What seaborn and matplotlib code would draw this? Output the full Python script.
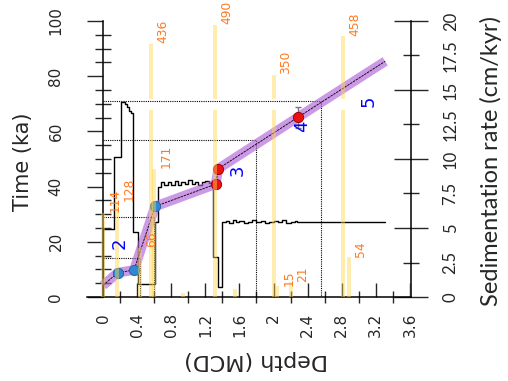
import numpy as np
import pandas as pd
import matplotlib
matplotlib.use("Agg")
import matplotlib.pyplot as plt
import seaborn as sns
from matplotlib.ticker import FixedLocator, FixedFormatter

# ---------------- data ----------------
# age-depth model (depth in m MCD, age in ka)
model_depth = [0.0, 0.172, 0.364, 0.61, 1.322, 1.353, 2.291, 3.31]
model_age = [4.2, 8.8, 9.8, 32.8, 40.9, 46.5, 65.2, 85.4]

# dated points
c14_depth = [0.172, 0.364, 0.61]
c14_age = [8.8, 9.8, 32.8]
osl_depth = [1.322, 1.353, 2.291]
osl_age = [40.9, 46.5, 65.2]
osl_err = [0.0, 0.0, 3.8]

# MIS boundaries
mis_age = [14, 29, 57, 71]
mis_depth = [0.43, 0.60, 1.80, 2.56]
mis_labels = ["2", "3", "4", "5"]
mis_label_depth = [0.19, 1.585, 2.335, 3.12]
mis_label_age = [19.6, 46.1, 61.7, 70.8]

# count histogram bars (plotted on the time axis)
bar_depth = [0.0, 0.164, 0.434, 0.598, 0.563, 1.314, 2.006, 2.041, 2.205, 2.815, 2.886]
bar_height = [30.5, 34.8, 17.8, 46.5, 91.8, 98.7, 80.6, 4.0, 5.4, 94.4, 14.5]
bar_count = [114, 128, 66, 171, 436, 490, 350, 15, 21, 458, 54]
small_bar_depth = [0.94, 1.55]
small_bar_height = [1.6, 2.8]

# sedimentation rate (cm/kyr), step line (steps-post)
rate_depth = [0.0, 0.0, 0.13, 0.21, 0.26, 0.28, 0.305, 0.33, 0.352, 0.41, 0.61,
              0.645, 0.68, 0.72, 0.76, 0.80, 0.84, 0.88, 0.92, 0.96, 1.00, 1.04,
              1.08, 1.12, 1.16, 1.20, 1.24, 1.29, 1.35, 1.40,
              1.44, 1.48, 1.52, 1.56, 1.60, 1.65, 1.70, 1.75, 1.80, 1.85, 1.90,
              1.95, 2.00, 2.05, 2.10, 2.15, 2.20, 2.25, 2.28, 3.31]
rate_value = [0.0, 4.93, 10.16, 14.15, 14.0, 13.75, 13.5, 13.35, 4.72, 0.94, 5.44,
              8.0, 8.3, 8.1, 8.35, 8.15, 8.4, 8.1, 8.3, 8.2, 8.45, 8.2,
              8.35, 8.15, 8.3, 8.4, 8.25, 2.9, 0.73, 5.44,
              5.5, 5.35, 5.55, 5.4, 5.5, 5.35, 5.45, 5.55, 5.4, 5.5, 5.35,
              5.45, 5.5, 5.4, 5.55, 5.35, 5.45, 5.5, 5.44, 5.44]

x_ticks = [0, 0.4, 0.8, 1.2, 1.6, 2, 2.4, 2.8, 3.2, 3.6]
x_ticklabels = ["0", "0.4", "0.8", "1.2", "1.6", "2", "2.4", "2.8", "3.2", "3.6"]
y_ticks = [0, 20, 40, 60, 80, 100]
r_major = [0, 5, 10, 15, 20]
r_minor = [2.5, 7.5, 12.5, 17.5]

# ---------------- style ----------------
sns.set_style("white")
plt.rcParams["font.family"] = ["DejaVu Sans"]

fig = plt.figure(figsize=(5.08, 3.81), dpi=100)
ax = fig.add_axes([87 / 508, 1 - 297 / 381, 324 / 508, 276 / 381])
ax2 = ax.twinx()
ax2.set_zorder(ax.get_zorder() - 1)
ax.patch.set_visible(False)

ax.set_xlim(-0.188, 3.613)
ax.set_ylim(0, 100)
ax2.set_ylim(0, 20)
ax.spines["left"].set_position(("data", 0))

# sedimentation-rate step line (right axis)
rate_df = pd.DataFrame({"depth": rate_depth, "rate": rate_value})
sns.lineplot(data=rate_df, x="depth", y="rate", ax=ax2, sort=False, estimator=None,
             color="black", lw=1.0, drawstyle="steps-post")

# MIS boundary dotted lines
for a, d in zip(mis_age, mis_depth):
    ax.plot([0, d, d], [a, a, 0], color="black", lw=0.8, ls=(0, (1, 1)), zorder=2)

# age-depth model band + center line
model_df = pd.DataFrame({"depth": model_depth, "age": model_age})
sns.lineplot(data=model_df, x="depth", y="age", ax=ax, sort=False, estimator=None,
             color="#b062d8", lw=7, alpha=0.65, zorder=3, solid_capstyle="butt")
sns.lineplot(data=model_df, x="depth", y="age", ax=ax, sort=False, estimator=None,
             color="black", lw=0.6, ls=(0, (3, 1)), zorder=3.2)

# dated points
ax.errorbar(osl_depth, osl_age, yerr=osl_err, fmt="none", ecolor="#777777",
            elinewidth=1, capsize=2, zorder=3.5)
sns.scatterplot(x=c14_depth, y=c14_age, ax=ax, s=55, color="#2e88d4",
                edgecolor="#1f5f99", linewidth=0.6, zorder=4)
sns.scatterplot(x=osl_depth, y=osl_age, ax=ax, s=55, color="#ee1111",
                edgecolor="#8a0000", linewidth=0.6, zorder=4)

# histogram bars (with white gap)
gap_lo, gap_hi = 67.9, 71.9
bw = 0.042
bh = np.array(bar_height)
ax.bar(bar_depth, np.minimum(bh, gap_lo), width=bw, color="#ffd54f", alpha=0.45,
       lw=0, zorder=5)
tall = bh > gap_hi
ax.bar(np.array(bar_depth)[tall], bh[tall] - gap_hi, bottom=gap_hi, width=bw,
       color="#ffd54f", alpha=0.45, lw=0, zorder=5)
ax.bar(small_bar_depth, small_bar_height, width=bw, color="#ffd54f", alpha=0.45,
       lw=0, zorder=5)
for d, h, n in zip(bar_depth, bar_height, bar_count):
    ax.annotate(str(n), (d, h), xytext=(8.6, 0.3), textcoords="offset points",
                rotation=90, ha="center", va="bottom", fontsize=8.8,
                color="#ff7a1f", zorder=6)

# MIS labels
for d, a, t in zip(mis_label_depth, mis_label_age, mis_labels):
    ax.text(d, a, t, rotation=90, ha="center", va="center", fontsize=13,
            color="#0000ff", zorder=6)

# ---------------- axes ----------------
ax.spines["top"].set_visible(False)
ax.spines["right"].set_visible(False)
for s in ["left", "top", "bottom"]:
    ax2.spines[s].set_visible(False)
for s in ["left", "bottom"]:
    ax.spines[s].set_linewidth(1.1)
    ax.spines[s].set_color("black")
ax2.spines["right"].set_linewidth(1.1)
ax2.spines["right"].set_color("black")

# x axis
ax.set_xticks(x_ticks)
ax.set_xticklabels(x_ticklabels, rotation=90)
ax.xaxis.set_minor_locator(FixedLocator([0.2, 0.6, 1.0, 1.4, 1.8, 2.2, 2.6, 3.0, 3.4]))
ax.tick_params(axis="x", which="major", direction="in", length=10, width=1,
               pad=11.5, labelsize=11, bottom=True)
ax.tick_params(axis="x", which="minor", direction="inout", length=8.5, width=1,
               bottom=True)

# left y axis
ax.set_yticks(y_ticks)
ax.yaxis.set_minor_locator(FixedLocator([v for v in range(5, 100, 5) if v % 20]))
ax.tick_params(axis="y", which="major", direction="out", length=11.5, width=1,
               pad=17, labelsize=11, left=True, labelrotation=90)
ax.tick_params(axis="y", which="minor", direction="inout", length=12, width=1, left=True)
for lab in ax.get_yticklabels():
    lab.set_va("center")
    lab.set_ha("right")

# right y axis
ax2.yaxis.set_major_locator(FixedLocator(r_major))
ax2.yaxis.set_major_formatter(FixedFormatter([str(v) for v in r_major]))
ax2.yaxis.set_minor_locator(FixedLocator(r_minor))
ax2.yaxis.set_minor_formatter(FixedFormatter([str(v) for v in r_minor]))
ax2.tick_params(axis="y", which="major", direction="inout", length=24, width=1,
                pad=11, labelsize=12, right=True, labelfontfamily="Lato")
ax2.tick_params(axis="y", which="minor", direction="inout", length=11.5, width=1,
                pad=17, labelsize=12, right=True, labelfontfamily="Lato")
for lab in ax2.get_yticklabels(which="both"):
    lab.set_rotation(90)
    lab.set_va("center")

# axis labels
ax.set_xlabel("Depth (MCD)", rotation=180, rotation_mode="default",
              ha="center", va="center", fontsize=16)
ax.xaxis.set_label_coords((256 - 87) / 324, (297 - 360) / 276)
ax.set_ylabel("Time (ka)", rotation=90, rotation_mode="default",
              ha="center", va="center", fontsize=15)
ax.yaxis.set_label_coords((23 - 87) / 324, (297 - 162) / 276)
ax2.set_ylabel("Sedimentation rate (cm/kyr)", rotation=90, rotation_mode="default",
               ha="center", va="center", fontsize=17, family="Lato")
ax2.yaxis.set_label_coords((491 - 87) / 324, (297 - 161) / 276)

fig.savefig("out.png", dpi=100)
